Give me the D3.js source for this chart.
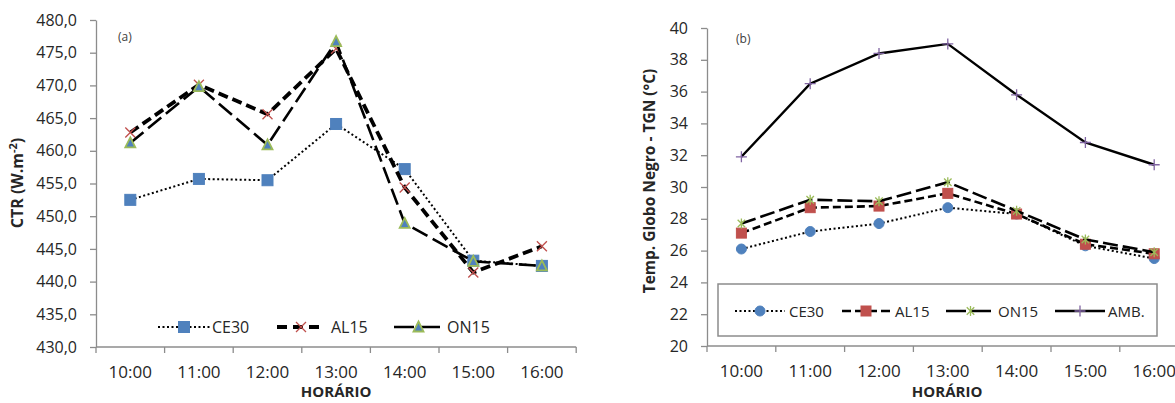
<!DOCTYPE html>
<html>
<head>
<meta charset="utf-8">
<script src="https://cdn.jsdelivr.net/npm/d3@7"></script>
<style>
  html, body { margin: 0; padding: 0; background: #fff; }
  svg { display: block; font-family: "Open Sans", "Liberation Sans", sans-serif; }
</style>
</head>
<body>
<svg id="chart" width="1175" height="403"></svg>
<script>
// ---------- DATA ----------
const hours = ["10:00", "11:00", "12:00", "13:00", "14:00", "15:00", "16:00"];

// Panel (a) - CTR (W.m-2)
const ctrCE30 = [452.5, 455.7, 455.5, 464.1, 457.2, 443.2, 442.4];
const ctrAL15 = [462.8, 470.1, 465.6, 475.6, 454.4, 441.4, 445.4];
const ctrON15 = [461.2, 469.8, 460.9, 476.7, 448.9, 443.1, 442.4];
const ctrTicks = [430, 435, 440, 445, 450, 455, 460, 465, 470, 475, 480];

// Panel (b) - Temp. Globo Negro (°C)
const tgnCE30 = [26.1, 27.2, 27.7, 28.7, 28.3, 26.3, 25.5];
const tgnAL15 = [27.1, 28.7, 28.8, 29.6, 28.3, 26.4, 25.8];
const tgnON15 = [27.7, 29.2, 29.1, 30.3, 28.5, 26.7, 25.9];
const tgnAMB  = [31.9, 36.5, 38.4, 39.0, 35.8, 32.8, 31.4];
const tgnTicks = [20, 22, 24, 26, 28, 30, 32, 34, 36, 38, 40];

const seriesNamesA = ["CE30", "AL15", "ON15"];
const seriesNamesB = ["CE30", "AL15", "ON15", "AMB."];

// ---------- STYLE ----------
const BLUE = "#4F81BD", RED = "#C0504D", GREEN = "#9BBB59", PURPLE = "#8064A2";
const AXIS = "#8c8c8c", TXT = "#262626";

const svg = d3.select("#chart");

function drawMarker(g, type, x, y, opt) {
  const s = opt.size;
  if (type === "square") {
    g.append("rect").attr("x", x - s/2).attr("y", y - s/2).attr("width", s).attr("height", s)
      .attr("fill", opt.fill).attr("stroke", opt.stroke || opt.fill).attr("stroke-width", 1);
  } else if (type === "circle") {
    g.append("circle").attr("cx", x).attr("cy", y).attr("r", s/2)
      .attr("fill", opt.fill).attr("stroke", opt.fill);
  } else if (type === "x") {
    const h = s/2;
    g.append("path").attr("d", `M${x-h},${y-h}L${x+h},${y+h}M${x-h},${y+h}L${x+h},${y-h}`)
      .attr("stroke", opt.stroke).attr("stroke-width", 1.3).attr("fill", "none");
  } else if (type === "triangle") {
    const h = s/2;
    g.append("path").attr("d", `M${x},${y-h-0.5}L${x+h},${y+h-0.5}L${x-h},${y+h-0.5}Z`)
      .attr("fill", opt.fill).attr("stroke", opt.stroke).attr("stroke-width", 1.8).attr("stroke-linejoin", "miter");
  } else if (type === "star") {
    const h = s/2, d = h * 0.75;
    g.append("path").attr("d", `M${x},${y-h}L${x},${y+h}M${x-d},${y-d}L${x+d},${y+d}M${x-d},${y+d}L${x+d},${y-d}`)
      .attr("stroke", opt.stroke).attr("stroke-width", 1.3).attr("fill", "none");
  } else if (type === "plus") {
    const h = s/2;
    g.append("path").attr("d", `M${x-h},${y}L${x+h},${y}M${x},${y-h}L${x},${y+h}`)
      .attr("stroke", opt.stroke).attr("stroke-width", 1.3).attr("fill", "none");
  }
}

function panel(cfg) {
  const g = svg.append("g");
  const x = d3.scaleBand().domain(hours).range([cfg.x0, cfg.x1]);
  const y = d3.scaleLinear().domain(cfg.yDomain).range([cfg.yBottom, cfg.yTop]);

  // Y axis
  const yAxis = d3.axisLeft(y).tickValues(cfg.yTicks).tickSize(6).tickSizeOuter(0)
    .tickFormat(cfg.yFormat).tickPadding(13);
  const ya = g.append("g").attr("transform", `translate(${cfg.x0},0)`).call(yAxis);
  ya.select(".domain").attr("stroke", AXIS).attr("stroke-width", 1.3);
  ya.selectAll(".tick line").attr("stroke", AXIS).attr("stroke-width", 1.3);
  ya.selectAll(".tick text").attr("fill", TXT).style("font-size", "16px")
    .style("font-family", "'Open Sans', sans-serif");

  // X axis with ticks at category boundaries
  const xa = g.append("g").attr("transform", `translate(0,${cfg.yBottom})`);
  xa.append("line").attr("x1", cfg.x0).attr("x2", cfg.x1).attr("y1", 0).attr("y2", 0)
    .attr("stroke", AXIS).attr("stroke-width", 1.3);
  const bounds = hours.map(h => x(h)).concat([x(hours[hours.length-1]) + x.bandwidth()]);
  xa.selectAll("line.tk").data(bounds).join("line").attr("class", "tk")
    .attr("x1", d => d).attr("x2", d => d).attr("y1", 0).attr("y2", 6)
    .attr("stroke", AXIS).attr("stroke-width", 1.3);
  xa.selectAll("text.lbl").data(hours).join("text").attr("class", "lbl")
    .attr("x", d => x(d) + x.bandwidth()/2).attr("y", cfg.xLabelDy)
    .attr("text-anchor", "middle").attr("fill", TXT).style("font-size", "17px").text(d => d);

  // Axis titles
  g.append("text").attr("x", (cfg.x0 + cfg.x0 + 7*68.6)/2).attr("y", cfg.xTitleY)
    .attr("text-anchor", "middle").attr("fill", TXT).style("font-size", "15px").style("font-weight", "bold")
    .text("HORÁRIO");
  const yt = g.append("text").attr("transform", `translate(${cfg.yTitleX},${cfg.yTitleY}) rotate(-90)`)
    .attr("text-anchor", "middle").attr("fill", TXT).style("font-size", cfg.yTitleFont).style("font-weight", "bold");
  cfg.yTitle(yt);

  // Panel letter
  g.append("text").attr("x", cfg.letterX).attr("y", cfg.letterY).attr("fill", "#404040")
    .style("font-size", "12px").text(cfg.letter);

  // Series
  const line = d3.line().x((d, i) => x(hours[i]) + x.bandwidth()/2).y(d => y(d));
  cfg.series.forEach(s => {
    const sg = g.append("g");
    sg.append("path").datum(s.values).attr("d", line).attr("fill", "none")
      .attr("stroke", "#000").attr("stroke-width", s.width).attr("stroke-dasharray", s.dash);
    s.values.forEach((v, i) => drawMarker(sg, s.marker, x(hours[i]) + x.bandwidth()/2, y(v), s.mopt));
  });

  // Legend
  const lg = g.append("g");
  if (cfg.legendBox) {
    const b = cfg.legendBox;
    lg.append("rect").attr("x", b[0]).attr("y", b[1]).attr("width", b[2]).attr("height", b[3])
      .attr("fill", "#fff").attr("stroke", AXIS).attr("stroke-width", 1.5);
  }
  cfg.series.forEach((s, k) => {
    const it = cfg.legendItems[k];
    lg.append("line").attr("x1", it[0]).attr("x2", it[1]).attr("y1", cfg.legendY).attr("y2", cfg.legendY)
      .attr("stroke", "#000").attr("stroke-width", s.width).attr("stroke-dasharray", s.legendDash);
    drawMarker(lg, s.marker, (it[0] + it[1]) / 2, cfg.legendY, s.mopt);
    lg.append("text").attr("x", it[2]).attr("y", cfg.legendY + 5.5).attr("fill", TXT)
      .style("font-size", cfg.legendFont).text(s.name);
  });
}

// Panel (a)
panel({
  x0: 96, x1: 96 + 7*68.6, yTop: 20, yBottom: 347,
  yDomain: [430, 480], yTicks: ctrTicks,
  yFormat: d => d3.format(".1f")(d).replace(".", ","),
  xLabelDy: 31, xTitleY: 397,
  yTitleX: 23, yTitleY: 183, yTitleFont: "16px",
  yTitle: t => {
    t.append("tspan").text("CTR (W.m");
    t.append("tspan").attr("dy", -6).style("font-size", "11px").text("-2");
    t.append("tspan").attr("dy", 6).text(")");
  },
  letter: "(a)", letterX: 118, letterY: 41,
  legendY: 327, legendFont: "16px",
  legendItems: [[158, 210, 212], [277, 325, 331], [394, 443, 447]],
  series: [
    { name: seriesNamesA[0], values: ctrCE30, width: 2, dash: "2,2.5", legendDash: "2,2.5", marker: "square", mopt: { size: 11, fill: BLUE } },
    { name: seriesNamesA[1], values: ctrAL15, width: 3.8, dash: "10,5", legendDash: "10,6", marker: "x", mopt: { size: 10, stroke: RED } },
    { name: seriesNamesA[2], values: ctrON15, width: 2.6, dash: "17,6", legendDash: "20,6", marker: "triangle", mopt: { size: 10, fill: BLUE, stroke: GREEN } }
  ]
});

// Panel (b)
panel({
  x0: 707, x1: 707 + 7*68.8, yTop: 28, yBottom: 346,
  yDomain: [20, 40], yTicks: tgnTicks,
  yFormat: d => String(d),
  xLabelDy: 31, xTitleY: 397,
  yTitleX: 655, yTitleY: 181, yTitleFont: "15.5px",
  yTitle: t => t.text("Temp. Globo Negro - TGN (°C)"),
  letter: "(b)", letterX: 736, letterY: 43,
  legendBox: [718, 284, 439, 52],
  legendY: 311, legendFont: "15px",
  legendItems: [[735, 785, 789], [842, 890, 895], [946, 995, 998], [1055, 1105, 1108]],
  series: [
    { name: seriesNamesB[0], values: tgnCE30, width: 2, dash: "2,2.5", legendDash: "2,2.5", marker: "circle", mopt: { size: 10, fill: BLUE } },
    { name: seriesNamesB[1], values: tgnAL15, width: 2.6, dash: "8,4", legendDash: "9,4", marker: "square", mopt: { size: 10, fill: RED } },
    { name: seriesNamesB[2], values: tgnON15, width: 2.6, dash: "15,5", legendDash: "20,5", marker: "star", mopt: { size: 10, stroke: GREEN } },
    { name: seriesNamesB[3], values: tgnAMB, width: 2.4, dash: null, legendDash: null, marker: "plus", mopt: { size: 11, stroke: PURPLE } }
  ]
});
</script>
</body>
</html>
